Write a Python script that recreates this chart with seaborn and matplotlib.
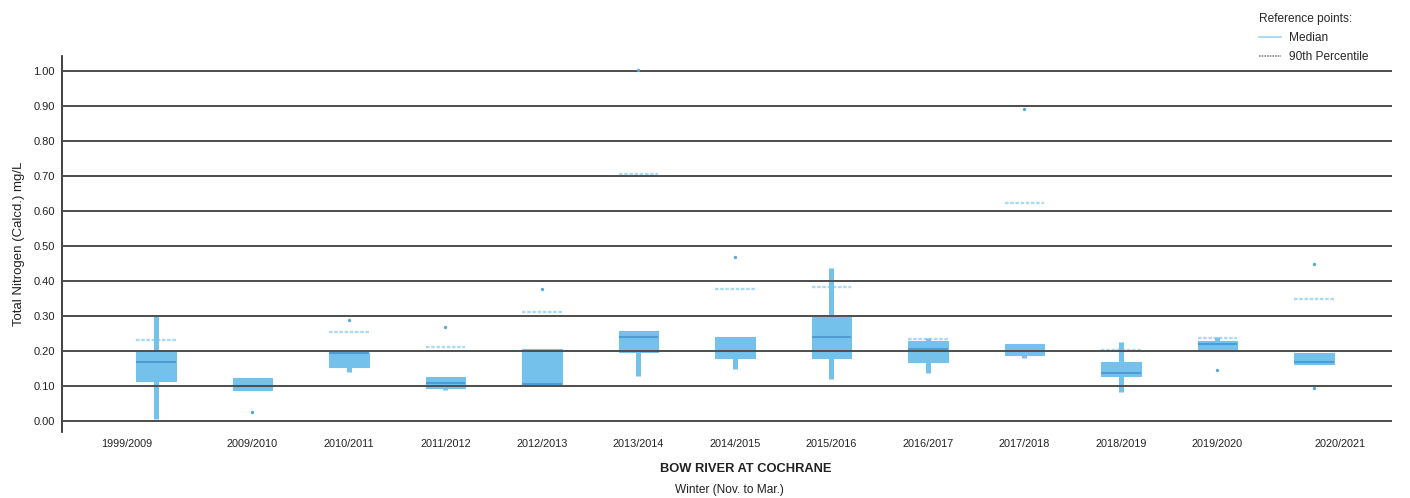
import numpy as np
import pandas as pd
import matplotlib
matplotlib.use("Agg")
import matplotlib.pyplot as plt
import matplotlib.transforms as mtransforms
from matplotlib.lines import Line2D
import seaborn as sns

# Winter seasons sampled at the station
categories = ["1999/2009", "2009/2010", "2010/2011", "2011/2012", "2012/2013",
              "2013/2014", "2014/2015", "2015/2016", "2016/2017", "2017/2018",
              "2018/2019", "2019/2020", "2020/2021"]

# Five-number summaries of total nitrogen (mg/L) per season
whisker_low = [0.005, 0.090, 0.140, 0.090, 0.107, 0.128, 0.149, 0.119, 0.138, 0.180, 0.083, 0.200, 0.163]
q1 = [0.116, 0.090, 0.154, 0.094, 0.107, 0.198, 0.179, 0.179, 0.169, 0.188, 0.128, 0.200, 0.163]
median = [0.170, 0.100, 0.195, 0.108, 0.107, 0.240, 0.200, 0.240, 0.207, 0.200, 0.138, 0.219, 0.170]
q3 = [0.200, 0.122, 0.195, 0.126, 0.206, 0.257, 0.240, 0.297, 0.228, 0.220, 0.168, 0.228, 0.195]
whisker_high = [0.302, 0.122, 0.195, 0.126, 0.206, 0.257, 0.240, 0.437, 0.238, 0.220, 0.227, 0.239, 0.195]

# Samples outside the whiskers
outlier_season = ["2009/2010", "2010/2011", "2011/2012", "2012/2013", "2013/2014",
                  "2014/2015", "2017/2018", "2019/2020", "2020/2021", "2020/2021"]
outlier_value = [0.026, 0.290, 0.268, 0.378, 1.003, 0.469, 0.892, 0.147, 0.449, 0.095]

# Historical 90th percentile reference point per season
ref_90th = [0.232, np.nan, 0.254, 0.213, 0.311, 0.705, 0.378, 0.382, 0.236, 0.623, 0.204, 0.237, 0.350]

y_ticks = [0.0, 0.1, 0.2, 0.3, 0.4, 0.5, 0.6, 0.7, 0.8, 0.9, 1.0]

BOX = "#74C1EC"
MEDIAN = "#4E9CD2"
REF = "#ABDAF4"
GRID = "#4D4D4D"

sns.set_theme(style="white")
plt.rcParams["font.family"] = ["Liberation Sans", "DejaVu Sans"]

# Long table: each season's summary values become its sample set
rows = []
for cat, a, b, c, d, e in zip(categories, whisker_low, q1, median, q3, whisker_high):
    for v in (a, b, c, d, e):
        rows.append({"season": cat, "tn": v})
summary = pd.DataFrame(rows)
outliers = pd.DataFrame({"season": outlier_season, "tn": outlier_value})

fig = plt.figure(figsize=(14.10, 4.98), dpi=100)
ax = fig.add_axes([62 / 1410, 1 - 432 / 498, 1330 / 1410, 376 / 498])

sns.boxplot(data=summary, x="season", y="tn", order=categories, ax=ax,
            width=0.41, whis=(0, 100), showcaps=False, showfliers=False,
            boxprops=dict(facecolor=BOX, edgecolor=BOX, linewidth=0.8, zorder=2),
            medianprops=dict(color=MEDIAN, linewidth=1.5, zorder=2.2),
            whiskerprops=dict(color=BOX, linewidth=3.6, solid_capstyle="butt", zorder=2))

sns.stripplot(data=outliers, x="season", y="tn", order=categories, ax=ax,
              jitter=False, size=2.4, color="#52A8DE", linewidth=0, zorder=3)

# Reference 90th percentile markers, one short segment per season
xpos = np.arange(len(categories))
mask = ~np.isnan(ref_90th)
ax.hlines(np.array(ref_90th)[mask], xpos[mask] - 0.205, xpos[mask] + 0.205,
          colors=REF, linewidth=1.7, linestyles=(0, (1.5, 0.7)), zorder=1.5)

ax.set_xlim(-0.974, 12.81)
ax.set_ylim(-0.031, 1.043)
ax.set_yticks(y_ticks)
ax.set_yticklabels([f"{t:.2f}" for t in y_ticks], fontsize=8, color="#222222")
ax.set_xticks(xpos)
ax.set_xticklabels(categories, fontsize=7.8, color="#222222")
ax.tick_params(axis="both", length=0, pad=5)

# Edge labels are nudged inward/outward
lbls = ax.get_xticklabels()
lbls[0].set_transform(lbls[0].get_transform() + mtransforms.ScaledTranslation(-29 / 100, 0, fig.dpi_scale_trans))
lbls[-1].set_transform(lbls[-1].get_transform() + mtransforms.ScaledTranslation(26 / 100, 0, fig.dpi_scale_trans))

ax.yaxis.grid(True, color=GRID, linewidth=1.4)
ax.xaxis.grid(False)
ax.set_axisbelow(False)
for side in ("top", "right", "bottom"):
    ax.spines[side].set_visible(False)
ax.spines["left"].set_color("#333333")
ax.spines["left"].set_linewidth(1.3)

ax.set_xlabel("")
ax.set_ylabel("Total Nitrogen (Calcd.) mg/L", fontsize=9.5, color="#222222")
ax.yaxis.set_label_coords(-0.0275, 0.5)

fig.text(746 / 1410, 1 - 469 / 498, "BOW RIVER AT COCHRANE", ha="center", va="center",
         fontsize=9.3, fontweight="bold", color="#222222")
fig.text(729 / 1410, 1 - 490 / 498, "Winter (Nov. to Mar.)", ha="center", va="center",
         fontsize=8.6, color="#222222")

handles = [Line2D([], [], color=REF, linewidth=1.5),
           Line2D([], [], color="#888888", linewidth=1.2, linestyle=(0, (1, 0.6)))]
leg = fig.legend(handles, ["Median", "90th Percentile"], title="Reference points:",
                 loc="upper left", bbox_to_anchor=(1248 / 1410, 1 - 2 / 498),
                 frameon=False, fontsize=8.6, title_fontsize=8.6,
                 handlelength=1.9, handletextpad=0.6, labelspacing=0.6,
                 alignment="left")

fig.savefig("out.png", dpi=100, facecolor="white")
